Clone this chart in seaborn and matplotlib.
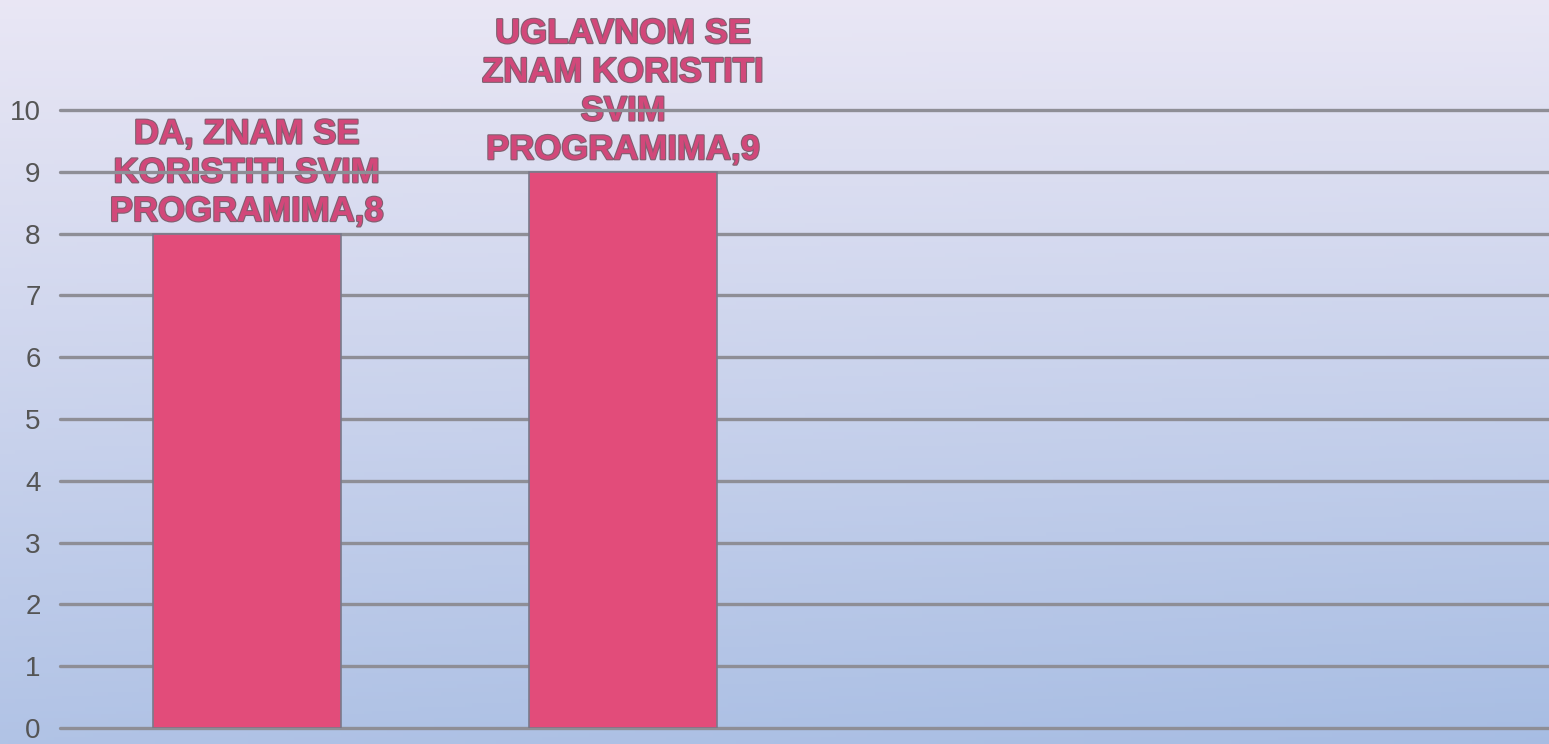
import numpy as np
import matplotlib
matplotlib.use("Agg")
import matplotlib.pyplot as plt
import matplotlib.patheffects as pe
import seaborn as sns
import pandas as pd

categories = ["DA, ZNAM SE\nKORISTITI SVIM\nPROGRAMIMA",
              "UGLAVNOM SE\nZNAM KORISTITI\nSVIM\nPROGRAMIMA"]
values = [8, 9]
yticks = list(range(0, 11))

sns.set_theme(style="white")
plt.rcParams['font.family'] = ['Liberation Sans', 'DejaVu Sans']

fig = plt.figure(figsize=(15.49, 7.44), dpi=100)

# background gradient
bg = fig.add_axes([0, 0, 1, 1], zorder=-10)
ny, nx = 200, 200
yy, xx = np.mgrid[0:1:ny*1j, 0:1:nx*1j]
top = np.array([0.915, 0.905, 0.960])
bottom = np.array([0.655, 0.740, 0.890])
t = np.clip(0.85 * yy + 0.15 * xx * yy, 0, 1)[..., None]
img = top * (1 - t) + bottom * t
bg.imshow(img, aspect='auto', extent=[0, 1, 1, 0])
bg.axis('off')

ax = fig.add_axes([60/1549, 16/744, (1549-60)/1549, (728-110)/744])
ax.patch.set_alpha(0)
df = pd.DataFrame({"cat": categories, "val": values})
sns.barplot(data=df, x="cat", y="val", ax=ax, color="#e24c7a", saturation=1,
            width=0.5, edgecolor="#7a7a8a", linewidth=1.2, zorder=3)
ax.set_xlim(-0.497, 3.46)
ax.set_ylim(0, 10)
ax.set_yticks(yticks)
ax.set_yticklabels([str(v) for v in yticks], fontsize=20, color="#555555")
ax.tick_params(axis='y', length=0, pad=14)
ax.set_xticks([])
ax.set_xlabel("")
ax.set_ylabel("")
for s in ax.spines.values():
    s.set_visible(False)
ax.yaxis.grid(True, color="#8e8e96", linewidth=2.4, zorder=0)
ax.set_axisbelow(True)
for gl in ax.get_ygridlines():
    gl.set_clip_on(False)

for i, (c, v) in enumerate(zip(categories, values)):
    ax.annotate(f"{c},{v}", xy=(i, v), xytext=(0, 4), textcoords="offset points",
                ha="center", va="bottom", fontsize=25, fontweight="bold",
                color="#d2487a", linespacing=1.22, annotation_clip=False, zorder=0.2,
                path_effects=[pe.withStroke(linewidth=1.6, foreground="#806070")])

fig.savefig("out.png", dpi=100)
